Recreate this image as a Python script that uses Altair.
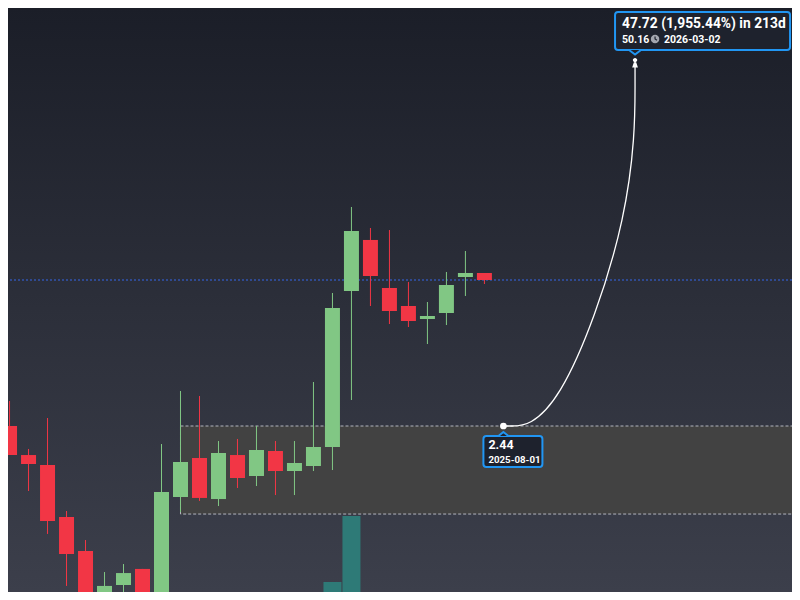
import altair as alt
import pandas as pd

# ---------------- data (monthly candles) ----------------
months = ["2023-06", "2023-07", "2023-08", "2023-09", "2023-10", "2023-11",
          "2023-12", "2024-01", "2024-02", "2024-03", "2024-04", "2024-05",
          "2024-06", "2024-07", "2024-08", "2024-09", "2024-10", "2024-11",
          "2024-12", "2025-01", "2025-02", "2025-03", "2025-04", "2025-05",
          "2025-06", "2025-07"]
opens = [2.440, 1.916, 1.763, 1.144, 0.862, 0.485, 0.649, 0.742, 0.506, 1.351, 1.869, 1.328,
         1.916, 1.609, 1.981, 1.677, 1.749, 2.049, 7.510, 11.49, 7.701, 6.629, 5.948, 6.253,
         8.439, 8.725]
highs = [3.005, 2.015, 2.608, 1.202, 0.944, 0.723, 0.773, 0.742, 2.100, 3.266, 3.132, 2.153,
         2.190, 2.440, 2.153, 2.153, 3.520, 7.387, 15.12, 12.69, 12.48, 8.095, 6.853, 8.799,
         10.48, 8.725]
lows = [1.916, 1.420, 0.993, 0.644, 0.428, 0.411, 0.527, 0.465, 0.465, 1.192, 1.307, 1.253,
        1.456, 1.480, 1.373, 1.373, 1.677, 1.691, 3.030, 6.629, 5.706, 5.565, 4.830, 5.658,
        7.205, 7.961]
closes = [1.916, 1.778, 1.106, 0.840, 0.485, 0.644, 0.717, 0.506, 1.408, 1.808, 1.340, 1.949,
          1.582, 1.998, 1.677, 1.793, 2.049, 6.519, 12.38, 8.511, 6.358, 5.850, 6.099, 7.895,
          8.725, 8.231]

vol_months = ["2024-11", "2024-12", "2025-01"]
volumes = [88.4, 412.5, 29.5]          # millions
vol_up = [True, True, False]

# drawing: date & price range measurement (x in bar units, as the chart spaces bars evenly)
start_date, start_bar, start_price = "2025-08-01", 26.0, 2.44
end_date, end_bar, end_price = "2026-03-02", 32.93, 50.16
box_start_bar, box_top, box_bottom = 9.0, 2.44, 1.172

label_main = "47.72 (1,955.44%) in 213d"
label_end_price = "50.16"
label_end_date = "2026-03-02"
label_start_price = "2.44"
label_start_date = "2025-08-01"

# ---------------- styling ----------------
W, H = 784, 584
GREEN, RED = "#81c784", "#f23645"
VOL_UP, VOL_DOWN = "#2e7a77", "#8c4a4f"
BLUE = "#2196f3"
LABEL_FILL = "#1e222d"
FONT = "Roboto"

xs = alt.Scale(domain=[0.182, 40.93], nice=False, zero=False)
ys = alt.Scale(type="log", domain=[0.6123, 79.31], nice=False, zero=False)

def X(field="bar"):
    return alt.X(f"{field}:Q", scale=xs, axis=None)

def Y(field, **kw):
    return alt.Y(f"{field}:Q", scale=ys, axis=None, **kw)

candles = pd.DataFrame({"month": months, "bar": list(range(len(months))),
                        "open": opens, "high": highs, "low": lows, "close": closes})
candles["dir"] = ["up" if c >= o else "down" for o, c in zip(opens, closes)]
col = alt.Color("dir:N", scale=alt.Scale(domain=["up", "down"], range=[GREEN, RED]), legend=None)

vol = pd.DataFrame({"month": vol_months, "bar": [months.index(m) for m in vol_months],
                    "volume": volumes, "vdir": ["vup" if u else "vdown" for u in vol_up]})

# background gradient
bg = alt.Chart(pd.DataFrame({"a": [0]})).mark_rect(
    fill=alt.Gradient(gradient="linear",
                      stops=[alt.GradientStop(color="#1b1e28", offset=0),
                             alt.GradientStop(color="#3c3f4b", offset=1)],
                      x1=0, y1=0, x2=0, y2=1)
).encode(x=alt.value(0), x2=alt.value(W), y=alt.value(0), y2=alt.value(H))

box_df = pd.DataFrame({"bar": [box_start_bar], "bar2": [45.0], "top": [box_top], "bottom": [box_bottom]})
box = alt.Chart(box_df).mark_rect(
    fill="#424242", stroke="#b2b5be", strokeDash=[3, 2], strokeWidth=1, clip=True
).encode(x=X(), x2="bar2:Q", y=Y("top"), y2="bottom:Q")

volume = alt.Chart(vol).mark_bar(size=18, clip=True).encode(
    x=X(),
    y=alt.Y("volume:Q", scale=alt.Scale(domain=[39.3, 2907], nice=False, zero=False), axis=None),
    color=alt.Color("vdir:N", scale=alt.Scale(domain=["vup", "vdown"], range=[VOL_UP, VOL_DOWN]), legend=None),
)

price_line = alt.Chart(pd.DataFrame({"p": [closes[-1]]})).mark_rule(
    color="#3566e8", strokeDash=[2, 2], strokeWidth=1
).encode(y=Y("p"))

wicks = alt.Chart(candles).mark_rule(strokeWidth=1, clip=True).encode(
    x=X(), y=Y("low"), y2="high:Q", color=col)
bodies = alt.Chart(candles).mark_bar(size=15, clip=True).encode(
    x=X(), y=Y("open"), y2="close:Q", color=col)

# connector curve (B-spline through control points derived from the two anchors)
c1_bar = start_bar + (end_bar - start_bar) * 0.4
c2_p = start_price * (end_price / start_price) ** 0.6
curve_df = pd.DataFrame({
    "i": [0, 1, 2, 3],
    "bar": [start_bar, c1_bar, end_bar, end_bar],
    "p": [start_price, start_price, c2_p, end_price],
})
curve = alt.Chart(curve_df).mark_line(interpolate="basis", color="white", strokeWidth=1.3).encode(
    x=X(), y=Y("p"), order="i:Q")

start_pt = alt.Chart(pd.DataFrame({"date": [start_date], "bar": [start_bar], "p": [start_price]}))
end_pt = alt.Chart(pd.DataFrame({"date": [end_date], "bar": [end_bar], "p": [end_price]}))

start_dot = start_pt.mark_point(filled=True, color="white", size=45, opacity=1).encode(x=X(), y=Y("p"))

PIN = ("M -0.42,-0.55 A 0.42,0.42 0 1,0 0.42,-0.55 A 0.42,0.42 0 1,0 -0.42,-0.55 Z "
       "M -0.22,-0.15 L 0.22,-0.15 L 0.55,0.85 L -0.55,0.85 Z")
pin = end_pt.mark_point(shape=PIN, filled=True, color="white", size=110, opacity=1).encode(
    x=X(), y=Y("p"))

# ---- labels ----
top_box = end_pt.transform_calculate(bar2="datum.bar", p2="datum.p").mark_rect(
    fill=LABEL_FILL, stroke=BLUE, strokeWidth=2, cornerRadius=3,
    xOffset=-20, x2Offset=155, yOffset=-51, y2Offset=-13
).encode(x=X(), x2="bar2:Q", y=Y("p"), y2="p2:Q")
top_notch = end_pt.mark_point(
    shape="M -1,0 L 0,0.75 L 1,0", filled=True, fill=LABEL_FILL, stroke=BLUE, strokeWidth=2,
    size=144, opacity=1, yOffset=-13
).encode(x=X(), y=Y("p"))
top_t1 = end_pt.mark_text(
    text=label_main, align="left", baseline="alphabetic", dx=-13, dy=-35,
    font=FONT, fontSize=13.8, fontWeight="bold", color="white"
).encode(x=X(), y=Y("p"))
top_t2 = end_pt.mark_text(
    text=label_end_price, align="left", baseline="alphabetic", dx=-13, dy=-20,
    font=FONT, fontSize=10.5, fontWeight="bold", color="white"
).encode(x=X(), y=Y("p"))
clock = end_pt.mark_point(filled=True, color="#a3a6af", size=72, opacity=1, xOffset=20, yOffset=-24).encode(
    x=X(), y=Y("p"))
clock_hands = end_pt.mark_point(shape="M 0,-0.6 L 0,0 L 0.45,0.3", filled=False, color=LABEL_FILL,
                                strokeWidth=1.2, size=72, opacity=1, xOffset=20, yOffset=-24).encode(
    x=X(), y=Y("p"))
top_t3 = end_pt.mark_text(
    text=label_end_date, align="left", baseline="alphabetic", dx=29, dy=-20,
    font=FONT, fontSize=10.5, fontWeight="bold", color="white"
).encode(x=X(), y=Y("p"))

bot_box = start_pt.transform_calculate(bar2="datum.bar", p2="datum.p").mark_rect(
    fill=LABEL_FILL, stroke=BLUE, strokeWidth=2, cornerRadius=3,
    xOffset=-20, x2Offset=39, yOffset=10, y2Offset=41
).encode(x=X(), x2="bar2:Q", y=Y("p"), y2="p2:Q")
bot_notch = start_pt.mark_point(
    shape="M -1,0 L 0,-0.8 L 1,0", filled=True, fill=LABEL_FILL, stroke=BLUE, strokeWidth=2,
    size=100, opacity=1, yOffset=10
).encode(x=X(), y=Y("p"))
bot_t1 = start_pt.mark_text(
    text=label_start_price, align="left", baseline="alphabetic", dx=-15, dy=23,
    font=FONT, fontSize=12.5, fontWeight="bold", color="white"
).encode(x=X(), y=Y("p"))
bot_t2 = start_pt.mark_text(
    text=label_start_date, align="left", baseline="alphabetic", dx=-15, dy=37,
    font=FONT, fontSize=9.7, fontWeight="bold", color="white"
).encode(x=X(), y=Y("p"))

chart = alt.layer(
    bg, box, volume, price_line, wicks, bodies, curve, start_dot, pin,
    top_box, top_notch, top_t1, top_t2, clock, clock_hands, top_t3,
    bot_box, bot_notch, bot_t1, bot_t2,
).resolve_scale(y="independent", color="independent").properties(
    width=W, height=H, padding=0, autosize=alt.AutoSizeParams(type="none"),
    background="#1b1e28",
).configure_view(stroke=None)

chart.save("out.html", embed_options={"renderer": "svg", "actions": False})
